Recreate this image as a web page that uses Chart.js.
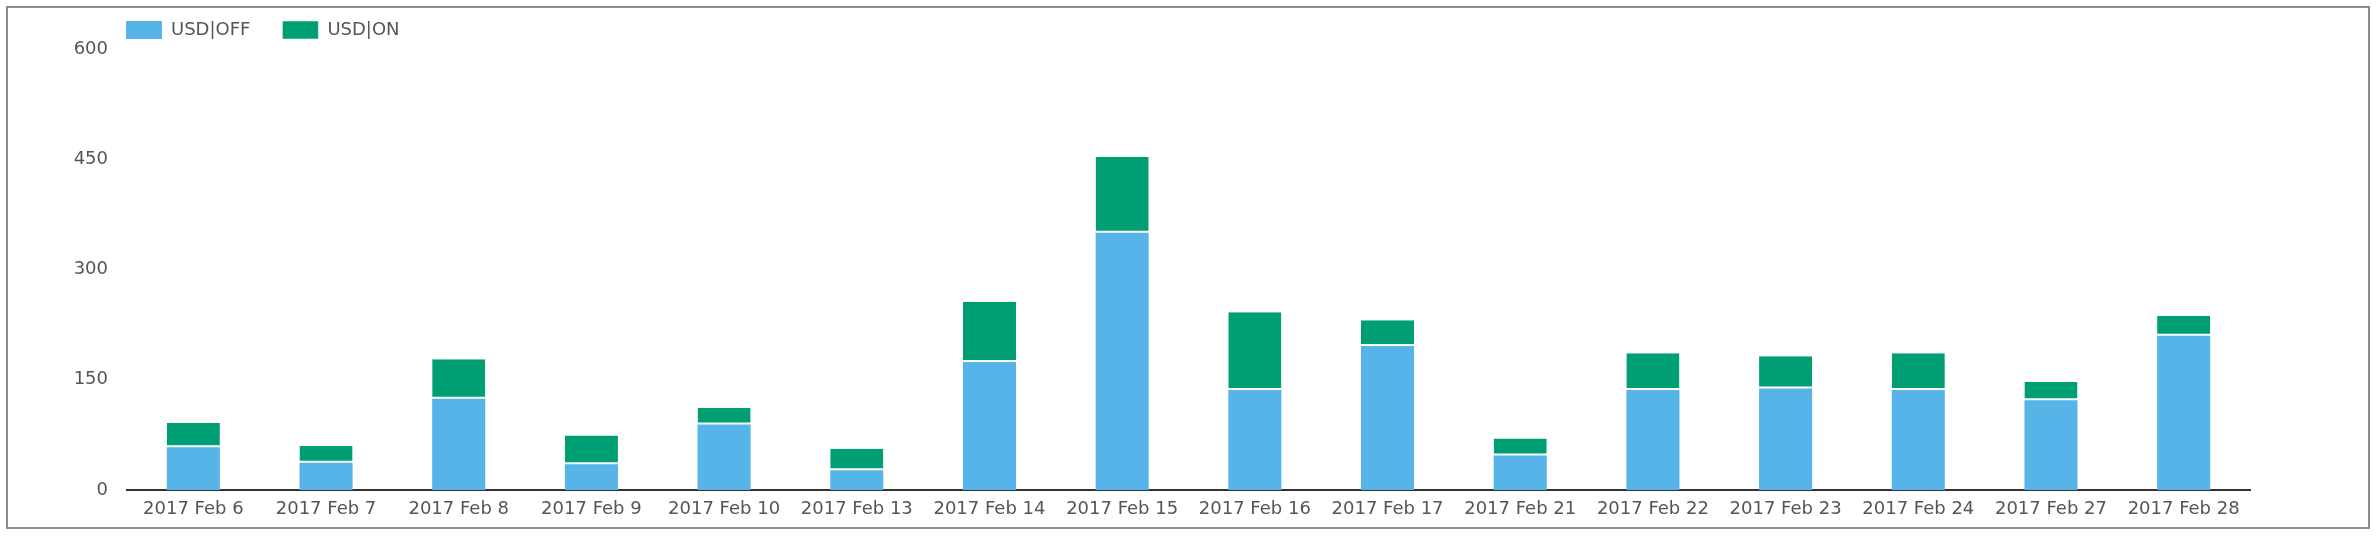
<!DOCTYPE html>
<html>
<head>
<meta charset="utf-8">
<script src="https://cdn.jsdelivr.net/npm/chart.js@4"></script>
<style>
  html, body { margin: 0; padding: 0; background: #fff; }
  body { width: 2378px; height: 540px; position: relative; overflow: hidden; }
  #frame { position: absolute; left: 6px; top: 6px; width: 2360px; height: 519px; border: 2px solid #8c8c8c; }
  #wrap { position: absolute; left: 8px; top: -11px; width: 2360px; height: 541px; }
</style>
</head>
<body>
<div id="frame"></div>
<div id="wrap"><canvas id="chart"></canvas></div>
<script>
// dates on the x axis
const days = [
  '2017 Feb 6', '2017 Feb 7', '2017 Feb 8', '2017 Feb 9', '2017 Feb 10', '2017 Feb 13',
  '2017 Feb 14', '2017 Feb 15', '2017 Feb 16', '2017 Feb 17', '2017 Feb 21', '2017 Feb 22',
  '2017 Feb 23', '2017 Feb 24', '2017 Feb 27', '2017 Feb 28'
];
// stacked series
const usdOff = [58, 37, 124, 35, 89, 27, 174, 350, 136, 196, 47, 136, 138, 136, 122, 210];
const usdOn  = [33, 23, 54, 39, 23, 29, 82, 103, 106, 35, 23, 50, 44, 50, 25, 27];
const yTicks = [0, 150, 300, 450, 600];

const BLUE = '#56b4e9', GREEN = '#009e73', TEXT = '#555';
const FONT = { family: "'DejaVu Sans', Verdana, sans-serif", size: 18 };

// legend sits over the plot's left edge, not the canvas edge
const legendShift = {
  id: 'legendShift',
  afterLayout(chart) {
    chart.legend.left += 26;
  }
};

new Chart(document.getElementById('chart'), {
  type: 'bar',
  data: {
    labels: days,
    datasets: [
      { label: 'USD|OFF', data: usdOff, backgroundColor: BLUE },
      { label: 'USD|ON', data: usdOn, backgroundColor: GREEN,
        borderColor: '#fff', borderWidth: { top: 0, right: 0, bottom: 2, left: 0 }, borderSkipped: false }
    ]
  },
  plugins: [legendShift],
  options: {
    responsive: true,
    maintainAspectRatio: false,
    animation: false,
    barPercentage: 0.4,
    categoryPercentage: 1,
    layout: { padding: { left: 60, right: 118, top: 0, bottom: 0 } },
    plugins: {
      tooltip: { enabled: false },
      legend: {
        position: 'top',
        align: 'start',
        labels: { boxWidth: 36, boxHeight: 18, padding: 32, color: TEXT, font: FONT }
      }
    },
    scales: {
      x: {
        stacked: true,
        grid: { display: false, drawTicks: false },
        border: { display: true, color: '#333', width: 2 },
        ticks: { color: TEXT, font: FONT, padding: 9, maxRotation: 0, autoSkip: false },
        afterFit: s => { s.height = 40; }
      },
      y: {
        stacked: true,
        min: 0,
        max: 600,
        grid: { display: false, drawTicks: false },
        border: { display: false },
        afterBuildTicks: s => { s.ticks = yTicks.map(v => ({ value: v })); },
        ticks: { color: TEXT, font: FONT, padding: 19 },
        afterFit: s => { s.width = 59; }
      }
    }
  }
});
</script>
</body>
</html>
